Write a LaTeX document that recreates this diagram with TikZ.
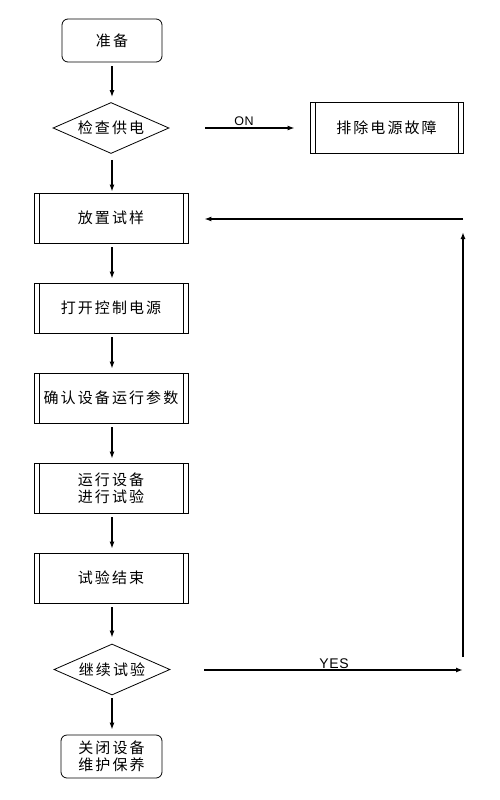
\documentclass[tikz,border=0pt]{standalone}
\usepackage{fontspec}
\setmainfont{Liberation Sans}
\newfontfamily\cjk[LetterSpace=14]{Noto Sans CJK SC}
\newfontfamily\latinsp[LetterSpace=5]{Liberation Sans}
\usetikzlibrary{shapes.geometric,arrows.meta}
\begin{document}
\begin{tikzpicture}[x=1pt,y=-1pt,
  lab/.style={font=\cjk\fontsize{15}{18}\selectfont, align=center, inner sep=0pt},
  termbox/.style={lab, draw, line width=0.8pt, rounded corners=6pt, minimum width=100pt, minimum height=43pt},
  procbox/.style={lab, draw, line width=0.8pt, minimum width=154pt, minimum height=50pt,
    path picture={\draw[line width=0.8pt] ([xshift=5pt]path picture bounding box.north west) -- ([xshift=5pt]path picture bounding box.south west);
                  \draw[line width=0.8pt] ([xshift=-5pt]path picture bounding box.north east) -- ([xshift=-5pt]path picture bounding box.south east);}},
  decide/.style={lab, draw, line width=0.8pt, diamond, aspect=2.3, minimum width=116pt, minimum height=51pt},
  arr/.style={line width=1.6pt, -{Latex[length=7pt,width=5pt]}},
  txt/.style={inner sep=0pt, anchor=base}
]
\useasboundingbox (0,0) rectangle (500,800);
\node[termbox] (start) at (112,40.5) {准备};
\node[decide] (d1) at (111,128) {检查供电};
\node[procbox, minimum width=153pt, minimum height=51pt] (fix) at (386.5,127.5) {排除电源故障};
\node[procbox] (b1) at (111,218) {放置试样};
\node[procbox] (b2) at (111,308) {打开控制电源};
\node[procbox] (b3) at (111,398) {确认设备运行参数};
\node[procbox, font=\cjk\fontsize{15}{17}\selectfont] (b4) at (111,488) {运行设备\\进行试验};
\node[procbox] (b5) at (111,578) {试验结束};
\node[decide] (d2) at (112,669.5) {继续试验};
\node[termbox, minimum width=101pt, font=\cjk\fontsize{15}{17}\selectfont] (stop) at (111.5,756.5) {关闭设备\\维护保养};
\coordinate (c1) at (463,670);
\coordinate (c2) at (463,219);

\draw[arr, shorten <=4pt, shorten >=5pt] (start.south -| 112,0) -- (d1.north -| 112,0);
\draw[arr, shorten <=6pt, shorten >=1pt] (d1.south -| 112,0) -- (b1.north -| 112,0);
\draw[arr, shorten <=4pt, shorten >=4pt] (b1.south -| 112,0) -- (b2.north -| 112,0);
\draw[arr, shorten <=4pt, shorten >=4pt] (b2.south -| 112,0) -- (b3.north -| 112,0);
\draw[arr, shorten <=4pt, shorten >=4pt] (b3.south -| 112,0) -- (b4.north -| 112,0);
\draw[arr, shorten <=4pt, shorten >=4pt] (b4.south -| 112,0) -- (b5.north -| 112,0);
\draw[arr, shorten <=4pt, shorten >=6pt] (b5.south -| 112,0) -- (d2.north -| 112,0);
\draw[arr, shorten <=3pt, shorten >=5pt] (d2.south -| 112,0) -- (stop.north -| 112,0);

\draw[arr, shorten <=36pt, shorten >=15pt] (d1.east) -- (fix.west |- d1.east);
\node[txt, font=\latinsp\fontsize{12.5}{14}\selectfont] (on) at (244,125) {ON};
\draw[arr, shorten <=34pt] (d2.east |- c1) -- (c1);
\node[txt, font=\latinsp\fontsize{14}{16}\selectfont] (yes) at (334,668) {YES};
\draw[arr, shorten <=13pt, shorten >=13pt] (c1) -- (c2);
\draw[arr, shorten >=16pt] (c2) -- (b1.east |- c2);
\end{tikzpicture}
\end{document}
